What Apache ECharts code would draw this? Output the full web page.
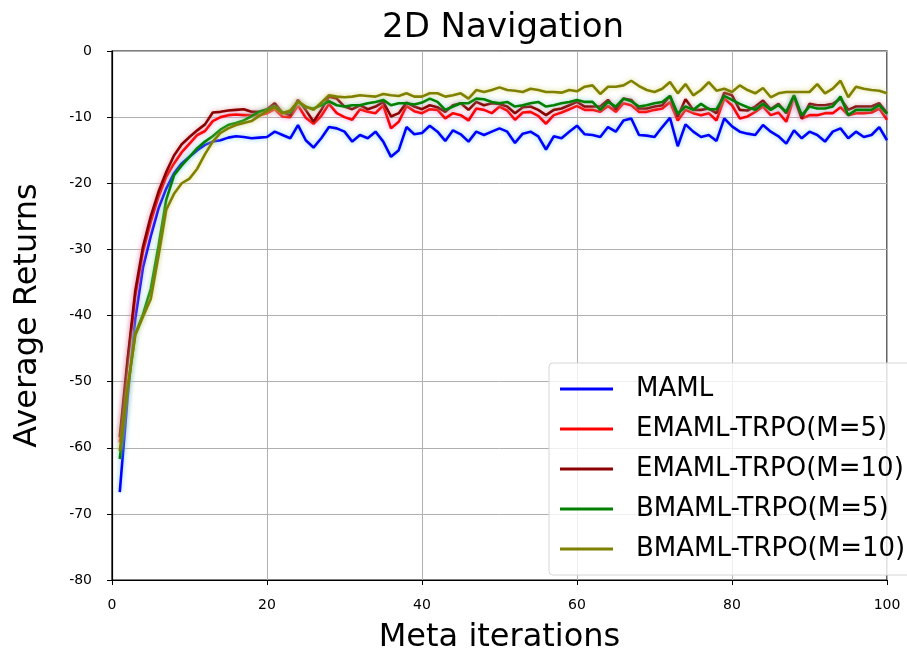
<!DOCTYPE html>
<html>
<head>
<meta charset="utf-8">
<script src="https://cdn.jsdelivr.net/npm/echarts@6/dist/echarts.min.js"></script>
<style>
  html, body { margin: 0; padding: 0; background: #fff; }
  #chart { width: 907px; height: 657px; }
</style>
</head>
<body>
<div id="chart"></div>
<script>
// Average returns per meta iteration (1..100) for each method
const iterations = Array.from({ length: 100 }, (_, k) => k + 1);

const maml = [
  -66.7, -52.5, -40.5, -32.7, -28, -23.8, -20.8, -18.5, -17, -16,
  -15, -14.2, -13.7, -13.5, -13.1, -12.9, -13, -13.2, -13.1, -13,
  -12.2, -12.7, -13.2, -11.2, -13.5, -14.6, -13.2, -11.5, -11.7, -12.2,
  -13.7, -12.7, -13.2, -12.2, -13.7, -16, -15, -11.5, -12.6, -12.4,
  -11.3, -12.2, -13.6, -12, -12.6, -13.7, -12.2, -12.7, -12.2, -11.7,
  -12.2, -13.9, -12.5, -12.2, -12.9, -14.9, -12.9, -13.2, -12.2, -11.3,
  -12.6, -12.7, -13, -11.5, -12.2, -10.5, -10.2, -12.7, -12.8, -13,
  -11.5, -10.1, -14.4, -11.1, -12.2, -13, -12.7, -13.6, -10.2, -11.4,
  -12.2, -12.5, -12.7, -11.2, -12.2, -12.9, -14, -12, -13.2, -12.2,
  -12.7, -13.7, -12.2, -11.7, -13.2, -12.2, -13, -12.7, -11.5, -13.5
];

const emamlM5 = [
  -59.2, -47.3, -37, -30.3, -25.8, -22, -19, -17, -15.3, -14,
  -12.7, -12.1, -10.6, -10, -9.7, -9.6, -9.7, -9.7, -9.7, -9.4,
  -8.8, -9.9, -10, -8.2, -10.1, -11, -9.8, -8, -9.4, -10,
  -10.4, -8.8, -9.2, -9.4, -8.2, -11.7, -10.7, -8.3, -9.1, -9.4,
  -8.8, -8.9, -10.2, -9.4, -9.7, -10.5, -8.7, -8.9, -9.4, -8.4,
  -9, -10.4, -9.3, -9.2, -9.8, -11, -9.7, -9.3, -8.8, -8.3,
  -8.9, -8.9, -9.2, -8.3, -9.2, -7.9, -8.2, -9.2, -9.2, -8.9,
  -8.7, -7.7, -10.5, -8.9, -9.4, -9.7, -9.4, -10.5, -7.2, -8.2,
  -10.2, -9.9, -9.2, -8.4, -9.7, -9.3, -10.7, -7, -10.2, -9.7,
  -9.7, -9.4, -9.4, -8.5, -9.7, -9.4, -9.4, -9.3, -8.7, -10.4
];

const emamlM10 = [
  -58.4, -46.8, -36.3, -29.6, -25, -21.3, -18.3, -15.8, -14.1, -13,
  -12, -11.1, -9.3, -9.2, -9, -8.9, -8.8, -9.2, -9.2, -8.8,
  -7.9, -9.3, -9.7, -7.4, -8.9, -10.7, -8.9, -6.9, -7.2, -8.4,
  -8.8, -8.2, -8.8, -8.4, -7.7, -9.9, -9.4, -7.8, -8.4, -8.8,
  -8.2, -8.5, -9.2, -8.2, -7.9, -8.9, -7.7, -8.2, -7.9, -8,
  -8.4, -9.4, -8.5, -8.4, -8.9, -9.7, -8.9, -8.7, -8.2, -7.7,
  -8.4, -8.4, -8.4, -7.4, -8.8, -7.2, -7.4, -8.7, -8.7, -8.4,
  -8.2, -6.8, -9.9, -7.3, -8.9, -8.9, -8.7, -9.4, -6.3, -6.7,
  -8.9, -9, -8.4, -7.5, -8.8, -8, -9.4, -6.8, -10.2, -8,
  -8.2, -8.2, -8, -7.2, -8.9, -8.4, -8.4, -8.4, -7.9, -9.4
];

const bmamlM5 = [
  -61.7, -51.3, -42.8, -39.8, -36, -29.5, -22.5, -18.8, -17.3, -16,
  -14.7, -13.7, -12.9, -11.9, -11.2, -10.9, -10.5, -9.9, -9.2, -8.9,
  -8.4, -9.3, -9.2, -7.7, -8.5, -8.7, -8.2, -7.6, -8.2, -8.4,
  -8.2, -8.2, -7.9, -7.7, -7.4, -8.2, -7.9, -7.9, -8.1, -7.8,
  -7.2, -7.7, -8.9, -8.4, -7.9, -7.9, -7.2, -7.3, -7.7, -7.9,
  -7.7, -8.4, -8.2, -7.9, -7.7, -8.4, -8.2, -7.9, -7.7, -7.4,
  -7.7, -7.7, -8.9, -7.7, -8.4, -7.2, -7.6, -8.4, -8.2, -7.9,
  -7.7, -6.8, -9.5, -8.4, -8.9, -8, -8.8, -8.8, -6.8, -7.4,
  -8, -8.5, -8.9, -8, -8.9, -8.2, -9.2, -6.7, -9.7, -8.4,
  -8.7, -8.7, -8.4, -6.9, -9.7, -8.9, -8.9, -8.9, -8.2, -9.5
];

const bmamlM10 = [
  -60.5, -51, -43, -40.2, -37.5, -31, -24, -21.6, -20, -19.3,
  -17.8, -15.6, -13.7, -12.4, -11.7, -11.2, -10.9, -10.6, -9.8, -9.1,
  -8.5, -9.4, -9, -7.6, -8.4, -8.9, -7.8, -6.7, -6.9, -7,
  -6.9, -6.7, -6.8, -6.9, -6.5, -6.7, -6.8, -6.4, -6.9, -6.9,
  -6.4, -6.4, -6.9, -6.7, -6.4, -7.2, -5.9, -6.2, -5.9, -5.5,
  -5.9, -6, -6.2, -5.7, -5.9, -6.2, -6.2, -6.3, -5.9, -6.1,
  -5.4, -5.2, -6.5, -5.4, -5.4, -5.2, -4.5, -5.3, -5.9, -6.2,
  -5.7, -4.7, -6.4, -5, -6.7, -5.9, -4.7, -6, -5.7, -6.2,
  -5.2, -5.9, -6.4, -5.6, -7, -6.4, -6.2, -6.2, -6.2, -6.2,
  -5, -6.4, -5.7, -4.5, -7, -5.4, -5.7, -5.9, -6, -6.4
];

const xTicks = [0, 20, 40, 60, 80, 100];
const yTicks = [-80, -70, -60, -50, -40, -30, -20, -10, 0];

const seriesDefs = [
  { name: 'MAML', values: maml, color: '#0000ff', halo: 'rgba(120,200,240,0.9)' },
  { name: 'EMAML-TRPO(M=5)', values: emamlM5, color: '#ff0000', halo: 'rgba(230,140,220,0.9)' },
  { name: 'EMAML-TRPO(M=10)', values: emamlM10, color: '#8b0000', halo: 'rgba(220,140,140,0.8)' },
  { name: 'BMAML-TRPO(M=5)', values: bmamlM5, color: '#008000', halo: 'rgba(120,210,200,0.8)' },
  { name: 'BMAML-TRPO(M=10)', values: bmamlM10, color: '#808000', halo: 'rgba(215,215,120,0.9)' }
];

const FONT = 'DejaVu Sans';
const chart = echarts.init(document.getElementById('chart'), null, { renderer: 'canvas' });

chart.setOption({
  animation: false,
  backgroundColor: '#ffffff',
  title: {
    text: '2D Navigation',
    left: 498, top: 6, textAlign: 'center',
    textStyle: { fontFamily: FONT, fontSize: 34, fontWeight: 'normal', color: '#000' }
  },
  grid: {
    left: 112, right: 20, top: 51, bottom: 77,
    outerBoundsMode: 'none', containLabel: false,
    show: true, borderColor: '#000', borderWidth: 1.2, backgroundColor: 'transparent'
  },
  legend: {
    orient: 'vertical',
    left: 549, top: 363,
    padding: [13, 12, 13, 11],
    itemGap: 14,
    itemWidth: 53, itemHeight: 3,
    icon: 'rect',
    backgroundColor: 'rgba(255,255,255,0.8)',
    borderColor: '#d6d6d6', borderWidth: 1, borderRadius: 4,
    textStyle: { fontFamily: FONT, fontSize: 26, color: '#000', lineHeight: 26, padding: [0, 0, 0, 18] },
    data: seriesDefs.map(s => s.name)
  },
  xAxis: {
    type: 'value', min: 0, max: 100, interval: 20,
    name: 'Meta iterations', nameLocation: 'middle', nameGap: 42,
    nameTextStyle: { fontFamily: FONT, fontSize: 32, color: '#000' },
    axisLine: { show: true, onZero: false, lineStyle: { color: '#000', width: 1.2 } },
    axisTick: { show: true, inside: false, length: 5, lineStyle: { color: '#000' } },
    axisLabel: {
      fontFamily: FONT, fontSize: 14, color: '#000', margin: 18,
      formatter: v => (xTicks.includes(v) ? String(v) : '')
    },
    splitLine: { show: true, lineStyle: { color: '#b0b0b0', width: 1 } }
  },
  yAxis: {
    type: 'value', min: -80, max: 0, interval: 10,
    name: 'Average Returns', nameLocation: 'middle', nameGap: 68, nameRotate: 90,
    nameTextStyle: { fontFamily: FONT, fontSize: 32, color: '#000' },
    axisLine: { show: true, onZero: false, lineStyle: { color: '#000', width: 1.2 } },
    axisTick: { show: true, inside: false, length: 5, lineStyle: { color: '#000' } },
    axisLabel: {
      fontFamily: FONT, fontSize: 14, color: '#000', margin: 20,
      formatter: v => (yTicks.includes(v) ? String(v) : '')
    },
    splitLine: { show: true, lineStyle: { color: '#b0b0b0', width: 1 } }
  },
  series: seriesDefs.map(s => ({
    name: s.name,
    type: 'line',
    showSymbol: false,
    symbol: 'none',
    data: iterations.map((it, k) => [it, s.values[k]]),
    color: s.color,
    lineStyle: { color: s.color, width: 2.6, shadowColor: s.halo, shadowBlur: 5 },
    itemStyle: { color: s.color },
    z: 3
  }))
});
</script>
</body>
</html>
